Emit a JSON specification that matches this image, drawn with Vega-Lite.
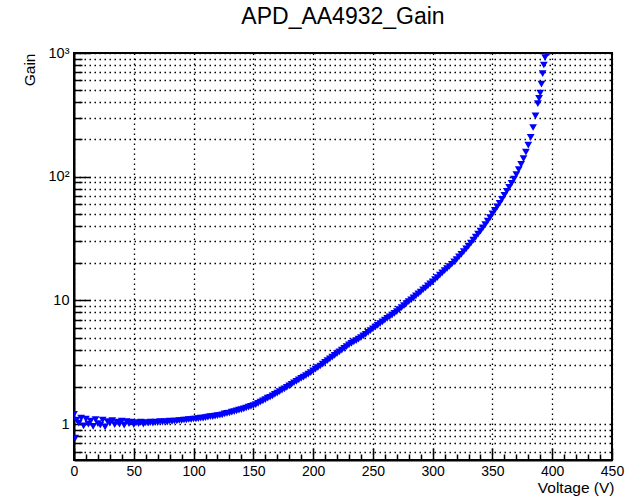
{
  "$schema": "https://vega.github.io/schema/vega-lite/v6.json",
  "width": 538,
  "height": 407,
  "autosize": "none",
  "padding": {"left": 74, "top": 53, "right": 28, "bottom": 36},
  "background": "white",
  "config": {
    "view": {"stroke": "black", "strokeWidth": 2},
    "font": "Liberation Sans"
  },
  "title": {
    "text": "APD_AA4932_Gain",
    "font": "Liberation Sans",
    "fontSize": 23,
    "fontWeight": "normal",
    "color": "black",
    "anchor": "middle",
    "frame": "group",
    "baseline": "alphabetic",
    "offset": -2
  },
  "data": {
    "values": [
      {"v": 0, "g": 1.2}, {"v": 1, "g": 0.77}, {"v": 2, "g": 1.08}, {"v": 4, "g": 1.02}, {"v": 6, "g": 1.12}, {"v": 8, "g": 0.97},
      {"v": 10, "g": 1.1}, {"v": 12, "g": 1.0}, {"v": 14, "g": 1.06}, {"v": 16, "g": 0.96}, {"v": 18, "g": 1.09},
      {"v": 20, "g": 1.01}, {"v": 22, "g": 0.98}, {"v": 24, "g": 1.08}, {"v": 26, "g": 0.95}, {"v": 28, "g": 1.05},
      {"v": 30, "g": 1.02}, {"v": 32, "g": 1.07}, {"v": 34, "g": 0.99}, {"v": 36, "g": 1.04}, {"v": 38, "g": 1.0},
      {"v": 40, "g": 1.06}, {"v": 42, "g": 0.98}, {"v": 44, "g": 1.05}, {"v": 46, "g": 1.01}, {"v": 48, "g": 1.04},
      {"v": 50, "g": 0.99}, {"v": 52, "g": 1.03}, {"v": 54, "g": 1.01}, {"v": 56, "g": 1.04}, {"v": 58, "g": 1.0},
      {"v": 60, "g": 1.03}, {"v": 62, "g": 1.02}, {"v": 64, "g": 1.04}, {"v": 66, "g": 1.02}, {"v": 68, "g": 1.04},
      {"v": 70, "g": 1.03}, {"v": 72, "g": 1.05}, {"v": 74, "g": 1.04}, {"v": 76, "g": 1.05}, {"v": 78, "g": 1.04},
      {"v": 80, "g": 1.06}, {"v": 82, "g": 1.05}, {"v": 84, "g": 1.06}, {"v": 86, "g": 1.06}, {"v": 88, "g": 1.07},
      {"v": 90, "g": 1.07}, {"v": 92, "g": 1.08}, {"v": 94, "g": 1.08}, {"v": 96, "g": 1.09}, {"v": 98, "g": 1.09},
      {"v": 100, "g": 1.1}, {"v": 102, "g": 1.1}, {"v": 104, "g": 1.11}, {"v": 106, "g": 1.12}, {"v": 108, "g": 1.12},
      {"v": 110, "g": 1.13}, {"v": 112, "g": 1.14}, {"v": 114, "g": 1.15}, {"v": 116, "g": 1.15}, {"v": 118, "g": 1.16},
      {"v": 120, "g": 1.17}, {"v": 122, "g": 1.18}, {"v": 124, "g": 1.19}, {"v": 126, "g": 1.21}, {"v": 128, "g": 1.22},
      {"v": 130, "g": 1.23}, {"v": 132, "g": 1.25}, {"v": 134, "g": 1.26}, {"v": 136, "g": 1.28}, {"v": 138, "g": 1.3},
      {"v": 140, "g": 1.31}, {"v": 142, "g": 1.33}, {"v": 144, "g": 1.35}, {"v": 146, "g": 1.37}, {"v": 148, "g": 1.39},
      {"v": 150, "g": 1.41}, {"v": 152, "g": 1.44}, {"v": 154, "g": 1.47}, {"v": 156, "g": 1.51}, {"v": 158, "g": 1.54},
      {"v": 160, "g": 1.58}, {"v": 162, "g": 1.62}, {"v": 164, "g": 1.65}, {"v": 166, "g": 1.69}, {"v": 168, "g": 1.74},
      {"v": 170, "g": 1.78}, {"v": 172, "g": 1.83}, {"v": 174, "g": 1.88}, {"v": 176, "g": 1.93}, {"v": 178, "g": 1.98},
      {"v": 180, "g": 2.04}, {"v": 182, "g": 2.1}, {"v": 184, "g": 2.16}, {"v": 186, "g": 2.22}, {"v": 188, "g": 2.28},
      {"v": 190, "g": 2.34}, {"v": 192, "g": 2.4}, {"v": 194, "g": 2.47}, {"v": 196, "g": 2.54}, {"v": 198, "g": 2.61},
      {"v": 200, "g": 2.69}, {"v": 202, "g": 2.78}, {"v": 204, "g": 2.86}, {"v": 206, "g": 2.95}, {"v": 208, "g": 3.06},
      {"v": 210, "g": 3.16}, {"v": 212, "g": 3.26}, {"v": 214, "g": 3.37}, {"v": 216, "g": 3.48}, {"v": 218, "g": 3.6},
      {"v": 220, "g": 3.72}, {"v": 222, "g": 3.84}, {"v": 224, "g": 3.97}, {"v": 226, "g": 4.1}, {"v": 228, "g": 4.23},
      {"v": 230, "g": 4.37}, {"v": 232, "g": 4.5}, {"v": 234, "g": 4.62}, {"v": 236, "g": 4.74}, {"v": 238, "g": 4.87},
      {"v": 240, "g": 5.0}, {"v": 242, "g": 5.16}, {"v": 244, "g": 5.33}, {"v": 246, "g": 5.51}, {"v": 248, "g": 5.7},
      {"v": 250, "g": 5.9}, {"v": 252, "g": 6.09}, {"v": 254, "g": 6.29}, {"v": 256, "g": 6.49}, {"v": 258, "g": 6.7},
      {"v": 260, "g": 6.92}, {"v": 262, "g": 7.15}, {"v": 264, "g": 7.38}, {"v": 266, "g": 7.61}, {"v": 268, "g": 7.86},
      {"v": 270, "g": 8.12}, {"v": 272, "g": 8.42}, {"v": 274, "g": 8.74}, {"v": 276, "g": 9.07}, {"v": 278, "g": 9.41},
      {"v": 280, "g": 9.77}, {"v": 282, "g": 10.1}, {"v": 284, "g": 10.5}, {"v": 286, "g": 10.9}, {"v": 288, "g": 11.3},
      {"v": 290, "g": 11.7}, {"v": 292, "g": 12.2}, {"v": 294, "g": 12.6}, {"v": 296, "g": 13.1}, {"v": 298, "g": 13.6},
      {"v": 300, "g": 14.1}, {"v": 302, "g": 14.7}, {"v": 304, "g": 15.3}, {"v": 306, "g": 16.0}, {"v": 308, "g": 16.7},
      {"v": 310, "g": 17.4}, {"v": 312, "g": 18.1}, {"v": 314, "g": 18.8}, {"v": 316, "g": 19.6}, {"v": 318, "g": 20.5},
      {"v": 320, "g": 21.4}, {"v": 322, "g": 22.5}, {"v": 324, "g": 23.6}, {"v": 326, "g": 24.8}, {"v": 328, "g": 26.1},
      {"v": 330, "g": 27.5}, {"v": 332, "g": 29.0}, {"v": 334, "g": 30.7}, {"v": 336, "g": 32.5}, {"v": 338, "g": 34.4},
      {"v": 340, "g": 36.3}, {"v": 342, "g": 38.6}, {"v": 344, "g": 41.0}, {"v": 346, "g": 43.7}, {"v": 348, "g": 46.7},
      {"v": 350, "g": 50.0}, {"v": 352, "g": 53.5}, {"v": 354, "g": 57.1}, {"v": 356, "g": 61.0}, {"v": 358, "g": 65.6},
      {"v": 360, "g": 70.8}, {"v": 362, "g": 76.3}, {"v": 364, "g": 82.0}, {"v": 366, "g": 88.3}, {"v": 368, "g": 95.5},
      {"v": 370, "g": 104}, {"v": 372, "g": 114}, {"v": 374, "g": 126}, {"v": 376, "g": 140}, {"v": 378, "g": 158},
      {"v": 380, "g": 180}, {"v": 382, "g": 208}, {"v": 384, "g": 250}, {"v": 386, "g": 310}, {"v": 388, "g": 390},
      {"v": 389, "g": 430}, {"v": 390, "g": 475}, {"v": 391, "g": 560}, {"v": 392, "g": 680}, {"v": 393, "g": 800},
      {"v": 394, "g": 920}, {"v": 395, "g": 990}, {"v": 396, "g": 1000}, {"v": 397, "g": 1000}
    ]
  },
  "layer": [
    {
      "mark": {"type": "point", "opacity": 0},
      "encoding": {
        "x": {
          "field": "v", "type": "quantitative",
          "scale": {"domain": [0, 450], "nice": false, "zero": false},
          "axis": {
            "orient": "bottom", "values": [10,20,30,40,60,70,80,90,110,120,130,140,160,170,180,190,210,220,230,240,260,270,280,290,310,320,330,340,360,370,380,390,410,420,430,440],
            "labels": false, "domain": false, "grid": false, "title": null,
            "ticks": true, "tickSize": -6, "tickColor": "black", "tickWidth": 1.5
          }
        },
        "y": {
          "field": "g", "type": "quantitative",
          "scale": {"type": "log", "domain": [0.513, 1000], "nice": false},
          "axis": {
            "orient": "left", "values": [0.6,0.7,0.8,0.9,2,3,4,5,6,7,8,9,20,30,40,50,60,70,80,90,200,300,400,500,600,700,800,900],
            "labels": false, "domain": false, "title": null,
            "grid": true, "gridColor": "black", "gridDash": [1.5, 3.5], "gridWidth": 1.3, "gridOpacity": 1,
            "ticks": true, "tickSize": -8, "tickColor": "black", "tickWidth": 1.5
          }
        }
      }
    },
    {
      "mark": {"type": "point", "shape": "triangle-down", "filled": true, "color": "#0000ff", "size": 60, "opacity": 1, "clip": true},
      "encoding": {
        "x": {
          "field": "v", "type": "quantitative",
          "scale": {"domain": [0, 450], "nice": false, "zero": false},
          "axis": {
            "orient": "bottom", "values": [0,50,100,150,200,250,300,350,400,450],
            "labelFont": "Liberation Sans", "labelFontSize": 14, "labelColor": "black",
            "labelPadding": 16, "labelFlush": false,
            "domain": true, "domainColor": "black", "domainWidth": 2,
            "grid": true, "gridColor": "black", "gridDash": [1.5, 3.5], "gridWidth": 1.3, "gridOpacity": 1,
            "ticks": true, "tickSize": -12, "tickColor": "black", "tickWidth": 1.5,
            "title": "Voltage (V)", "titleFont": "Liberation Sans", "titleFontSize": 15.5, "titleFontWeight": "normal", "titleColor": "black",
            "titleAnchor": "end", "titleAlign": "right", "titleBaseline": "alphabetic", "titleX": 540, "titleY": 32
          }
        },
        "y": {
          "field": "g", "type": "quantitative",
          "scale": {"type": "log", "domain": [0.513, 1000], "nice": false},
          "axis": {
            "orient": "left", "values": [1, 10, 100, 1000],
            "labelExpr": "datum.value == 1000 ? '10³' : datum.value == 100 ? '10²' : datum.value == 10 ? '10' : '1'",
            "labelFont": "Liberation Sans", "labelFontSize": 14.5, "labelColor": "black",
            "labelPadding": 21, "labelFlush": false,
            "domain": true, "domainColor": "black", "domainWidth": 2,
            "grid": true, "gridColor": "black", "gridDash": [1.5, 3.5], "gridWidth": 1.3, "gridOpacity": 1,
            "ticks": true, "tickSize": -16, "tickColor": "black", "tickWidth": 1.5,
            "title": "Gain", "titleFont": "Liberation Sans", "titleFontSize": 15.5, "titleFontWeight": "normal", "titleColor": "black",
            "titleAngle": -90, "titleAlign": "right", "titleBaseline": "middle", "titleX": -45, "titleY": 0
          }
        }
      }
    }
  ],
  "resolve": {"axis": {"x": "independent", "y": "independent"}}
}
